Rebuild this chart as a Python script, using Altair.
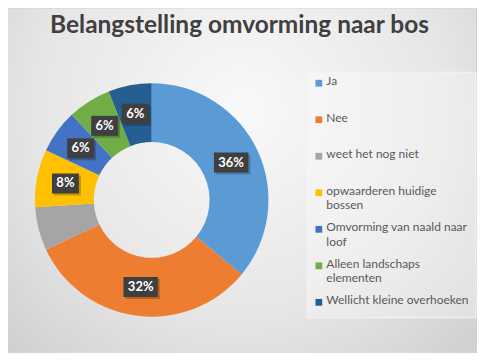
import altair as alt
import pandas as pd

categories = ["Ja", "Nee", "weet het nog niet", "opwaarderen huidige bossen",
              "Omvorming van naald naar loof", "Alleen landschaps elementen",
              "Wellicht kleine overhoeken"]
values = [36, 32, 6, 8, 6, 6, 6]
labels = ["36%", "32%", "", "8%", "6%", "6%", "6%"]
legend_text = ["Ja", "Nee", "weet het nog niet", "opwaarderen huidige|bossen",
               "Omvorming van naald naar|loof", "Alleen landschaps|elementen",
               "Wellicht kleine overhoeken"]
colors = ["#5B9BD5", "#ED7D31", "#A5A5A5", "#FFC000", "#4472C4", "#70AD47", "#255E91"]
title_text = ["Belangstelling omvorming naar bos"]

W, H = 469, 345
CX, CY = 144, 192
R_OUT, R_IN = 117, 58
R_LAB = 88
LEG_Y0, LEG_STEP = 75, 36.6

df = pd.DataFrame({"cat": categories, "value": values, "label": labels,
                   "legend": legend_text, "order": list(range(len(categories)))})

xs = alt.Scale(domain=[0, W], range=[0, W], nice=False, zero=False)
ys = alt.Scale(domain=[0, H], range=[0, H], nice=False, zero=False)
cscale = alt.Scale(domain=categories, range=colors)

bg = alt.Chart(pd.DataFrame({"t": title_text})).mark_rect(
    color={"gradient": "radial",
           "stops": [{"offset": 0, "color": "#f9f9f9"},
                     {"offset": 0.55, "color": "#e6e6e6"},
                     {"offset": 1, "color": "#c9c9c9"}],
           "x1": 0.5, "y1": 0.35, "r1": 0, "x2": 0.5, "y2": 0.35, "r2": 0.8}
).encode(x=alt.value(0), x2=alt.value(W), y=alt.value(0), y2=alt.value(H))

title = alt.Chart(pd.DataFrame({"t": title_text})).mark_text(
    font="Lato", fontWeight="bold", fontSize=24.5, color="#404040", baseline="middle", align="center"
).encode(x=alt.value(232), y=alt.value(18), text="t:N")

legend_box = alt.Chart(pd.DataFrame({"t": title_text})).mark_rect(
    fill="#ffffff", fillOpacity=0.3, stroke="#f4f4f4", strokeWidth=1
).encode(x=alt.value(300), x2=alt.value(469), y=alt.value(64), y2=alt.value(310))

base = alt.Chart(df)

arcs = base.mark_arc(outerRadius=R_OUT, innerRadius=R_IN).encode(
    theta=alt.Theta("value:Q", stack=True),
    color=alt.Color("cat:N", scale=cscale, legend=None),
    order=alt.Order("order:Q"),
    x=alt.value(CX), y=alt.value(CY),
)

pos = base.transform_window(
    cum="sum(value)", sort=[alt.SortField("order")], frame=[None, 0]
).transform_joinaggregate(total="sum(value)").transform_calculate(
    ang="2*PI*(datum.cum - datum.value/2)/datum.total",
    px=f"{CX} + {R_LAB}*sin(datum.ang)",
    py=f"{CY} - {R_LAB}*cos(datum.ang)",
    w="12 + 7.5*length(datum.label)",
).transform_calculate(
    bx1="datum.px - datum.w/2", bx2="datum.px + datum.w/2",
    by1="datum.py - 10", by2="datum.py + 10",
    sx1="datum.px - datum.w/2 + 2", sx2="datum.px + datum.w/2 + 2",
    sy1="datum.py - 8", sy2="datum.py + 12",
).transform_filter("datum.label != ''")

shadow = pos.mark_rect(color="#000000", opacity=0.22).encode(
    x=alt.X("sx1:Q", scale=xs, axis=None), x2="sx2:Q",
    y=alt.Y("sy1:Q", scale=ys, axis=None), y2="sy2:Q")

boxes = pos.mark_rect(color="#3f3f3f").encode(
    x=alt.X("bx1:Q", scale=xs, axis=None), x2="bx2:Q",
    y=alt.Y("by1:Q", scale=ys, axis=None), y2="by2:Q")

lab_text = pos.mark_text(font="Lato", fontWeight="bold", fontSize=13, color="white",
                         baseline="middle", align="center").encode(
    x=alt.X("px:Q", scale=xs, axis=None),
    y=alt.Y("py:Q", scale=ys, axis=None),
    text="label:N")

leg = base.transform_calculate(
    ly=f"{LEG_Y0} + datum.order*{LEG_STEP}",
    lty=f"{LEG_Y0} + datum.order*{LEG_STEP} - 7",
    lines="split(datum.legend, '|')",
)

leg_sq = leg.mark_square(size=46, opacity=1).encode(
    x=alt.value(311.5),
    y=alt.Y("ly:Q", scale=ys, axis=None),
    color=alt.Color("cat:N", scale=cscale, legend=None))

leg_txt = leg.mark_text(font="Lato", fontSize=12, color="#595959", align="left",
                        baseline="top", lineHeight=14.5).encode(
    x=alt.value(319),
    y=alt.Y("lty:Q", scale=ys, axis=None),
    text=alt.Text("lines:N"))

chart = alt.layer(bg, title, legend_box, arcs, shadow, boxes, lab_text, leg_sq, leg_txt).properties(
    width=W, height=H, padding=0, background="#d0d0d0"
).configure_view(strokeWidth=0)

chart.save("out.html", embed_options={"renderer": "svg", "actions": False})
